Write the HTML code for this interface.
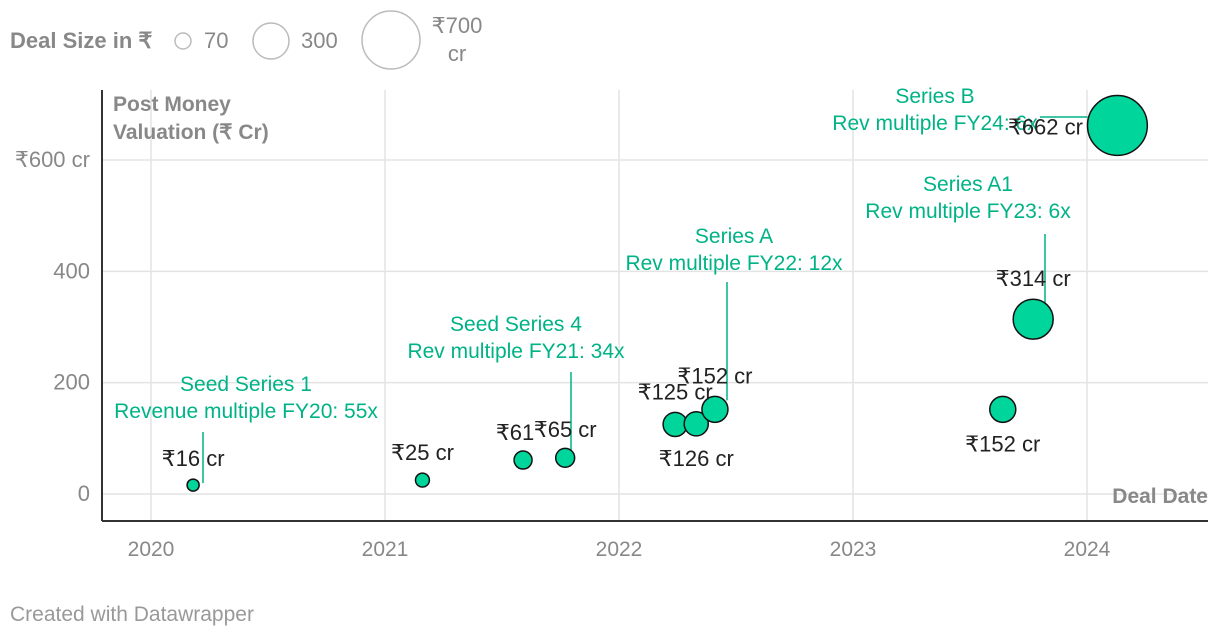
<!DOCTYPE html>
<html><head><meta charset="utf-8"><style>
body{margin:0;background:#fff;font-family:"Liberation Sans",sans-serif;}
svg text{font-family:"Liberation Sans","Noto Sans CJK SC",sans-serif;}
</style></head><body>
<svg id="c" width="1220" height="638">
<g>
<text x="10" y="48" font-size="22" font-weight="bold" fill="#888">Deal Size in ₹</text>
<circle cx="183" cy="41" r="8" fill="none" stroke="#bbb" stroke-width="1.5"/>
<text x="204" y="48" font-size="22" fill="#888">70</text>
<circle cx="271" cy="41" r="18" fill="none" stroke="#bbb" stroke-width="1.5"/>
<text x="301" y="48" font-size="22" fill="#888">300</text>
<circle cx="391" cy="40" r="29" fill="none" stroke="#bbb" stroke-width="1.5"/>
<text x="457" y="33" font-size="22" fill="#888" text-anchor="middle">₹700</text>
<text x="457" y="61" font-size="22" fill="#888" text-anchor="middle">cr</text>
</g>
<g id="grid"></g>
<g id="axes"></g>
<g id="ann"></g>
<g id="marks"></g>
<g id="labels"></g>
<text x="10" y="621" font-size="21" fill="#999">Created with Datawrapper</text>
</svg>
<script>
const years=[2020,2021,2022,2023,2024];
const yTicks=[0,200,400,600];
const yTickLabels=["0","200","400","₹600 cr"];
const dates=[2020.18,2021.16,2021.59,2021.77,2022.24,2022.33,2022.41,2023.64,2023.77,2024.13];
const valuations=[16,25,61,65,125,126,152,152,314,662];
const dealSizes=[30,40,67,74,120,120,140,140,330,740];
const pointLabels=["₹16 cr","₹25 cr","₹61","₹65 cr","₹125 cr","₹126 cr","₹152 cr","₹152 cr","₹314 cr","₹662 cr"];
const annTitles=["Seed Series 1","Seed Series 4","Series A","Series A1","Series B"];
const annSubs=["Revenue multiple FY20: 55x","Rev multiple FY21: 34x","Rev multiple FY22: 12x","Rev multiple FY23: 6x","Rev multiple FY24: 6x"];
const annPoint=[0,3,6,8,9];

const NS="http://www.w3.org/2000/svg";
const X=d=>151+(d-2020)*234;
const Y=v=>494-v*0.5567;
const R=s=>1.1*Math.sqrt(s);
function mk(p,t,a){const e=document.createElementNS(NS,t);for(const k in a)e.setAttribute(k,a[k]);document.getElementById(p).appendChild(e);return e;}

years.forEach(y=>{
 const l=mk('grid','line',{x1:X(y),x2:X(y),y1:90,y2:521,stroke:'#e3e3e3','stroke-width':1.5});
 
 
 const t=mk('axes','text',{x:X(y),y:556,'font-size':21,fill:'#888','text-anchor':'middle'});t.textContent=y;
 
 
});
yTicks.forEach((v,i)=>{
 const l=mk('grid','line',{x1:102,x2:1208,y1:Y(v),y2:Y(v),stroke:'#e3e3e3','stroke-width':1.5});
 
 
 const t=mk('axes','text',{x:90,y:Y(v)+7,'font-size':22,fill:'#888','text-anchor':'end'});t.textContent=yTickLabels[i];
 
 
});
let a=mk('axes','line',{x1:102,x2:102,y1:90,y2:521,stroke:'#333','stroke-width':2});


a=mk('axes','line',{x1:102,x2:1208,y1:521,y2:521,stroke:'#333','stroke-width':2});


let t=mk('axes','text',{x:113,y:111,'font-size':21,'font-weight':'bold',fill:'#888'});t.textContent="Post Money";


t=mk('axes','text',{x:113,y:139,'font-size':21,'font-weight':'bold',fill:'#888'});t.textContent="Valuation (₹ Cr)";


t=mk('axes','text',{x:1208,y:503,'font-size':21,'font-weight':'bold',fill:'#888','text-anchor':'end'});t.textContent="Deal Date";



const labOff=[[0,-19,'middle'],[0,-20,'middle'],[-8,-20,'middle'],[0,-21,'middle'],[0,-25,'middle'],[0,42,'middle'],[0,-26,'middle'],[0,42,'middle'],[0,-33,'middle'],[-72,9,'middle']];
dates.forEach((d,i)=>{
 const c=mk('marks','circle',{cx:X(d),cy:Y(valuations[i]),r:R(dealSizes[i]),fill:'#00d59c',stroke:'#111','stroke-width':1.5});
 
 
 const o=labOff[i];
 const l=mk('labels','text',{x:X(d)+o[0],y:Y(valuations[i])+o[1],'font-size':22,fill:'#222','text-anchor':o[2]});l.textContent=pointLabels[i];
 
 
});
const annPos=[[246,391,203,432],[516,331,571,372],[734,243,727,282],[968,191,1045,234],[935,103,1100,117]];
annTitles.forEach((s,i)=>{
 const p=dates[annPoint[i]],v=valuations[annPoint[i]];
 const [tx,ty,lx,ly]=annPos[i];
 let ln;
 if(i===4){ln=mk('ann','line',{x1:1040,y1:ly,x2:X(p)-R(dealSizes[annPoint[i]]),y2:ly,stroke:'#00b386','stroke-width':1.5});}
 else {ln=mk('ann','line',{x1:lx,y1:ly,x2:lx,y2:Y(v)-R(dealSizes[annPoint[i]])+4,stroke:'#00b386','stroke-width':1.5});}
 
 
 const a1=mk('ann','text',{x:tx,y:ty,'font-size':21,fill:'#00b386','text-anchor':'middle'});a1.textContent=s;
 
 
 const a2=mk('ann','text',{x:tx,y:ty+27,'font-size':21,fill:'#00b386','text-anchor':'middle'});a2.textContent=annSubs[i];
 
 
});
</script>
</body></html>
